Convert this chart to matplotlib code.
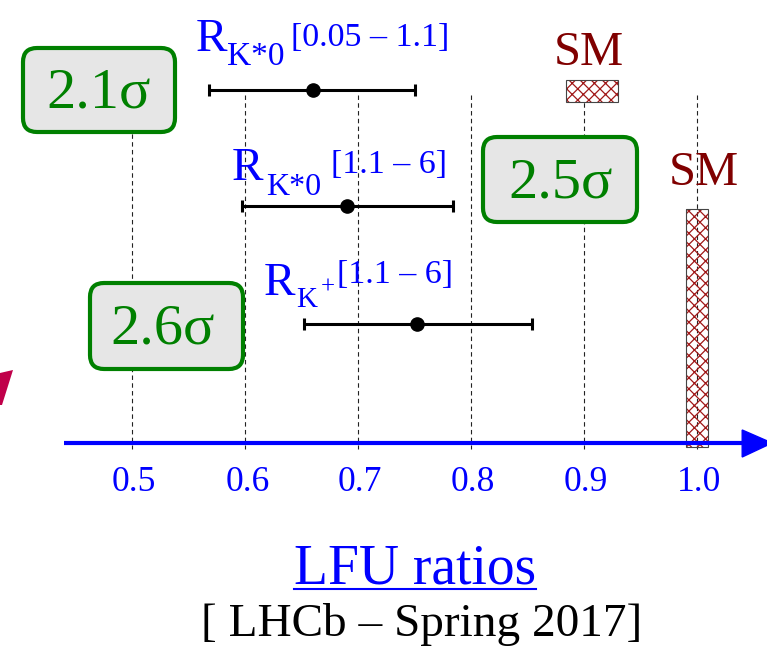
import matplotlib.pyplot as plt
from matplotlib.patches import FancyBboxPatch, Rectangle, Polygon

plt.rcParams['font.family'] = ['Liberation Serif', 'DejaVu Serif']
plt.rcParams['hatch.linewidth'] = 0.9

# LHCb ratios: central value and ends of the error bar
ratio_val = [0.66, 0.69, 0.752]
ratio_lo = [0.568, 0.597, 0.652]
ratio_hi = [0.750, 0.784, 0.854]
ratio_row = [90, 206, 324]          # vertical slot of each measurement

# SM predictions: centre and half width
sm_val = [0.907, 1.0]
sm_half = [0.023, 0.0095]

sigmas = ['2.1σ', '2.5σ', '2.6σ']
tick_vals = [0.5, 0.6, 0.7, 0.8, 0.9, 1.0]
tick_labels = ['0.5', '0.6', '0.7', '0.8', '0.9', '1.0']

W, H = 767, 648
fig = plt.figure(figsize=(W / 100, H / 100), dpi=100)

# main axes: x in ratio units, y in rows
ax = fig.add_axes([0, 0, 1, 1])
ax.set_xlim(0.5 - 132 / 1130, 0.5 + (W - 132) / 1130)
ax.set_ylim(H, 0)
ax.axis('off')

blue = '#0000ff'
green = '#008000'
maroon = '#800000'

# dashed guide lines
ax.vlines(tick_vals, 95, 449, colors='#222222', linestyles=(0, (4, 3)),
          lw=0.8, zorder=1)

# SM bands
sm_top = [80, 209]
sm_bot = [102, 447]
sm_face = ['white', 'none']
for c, hw, t, b, fc in zip(sm_val, sm_half, sm_top, sm_bot, sm_face):
    ax.add_patch(Rectangle((c - hw, t), 2 * hw, b - t, facecolor=fc,
                           edgecolor='#a01818', hatch='xxx', lw=0, zorder=2))
    ax.add_patch(Rectangle((c - hw, t), 2 * hw, b - t, fill=False,
                           edgecolor='#444444', lw=0.8, zorder=2))

# measurements
for v, lo, hi, row in zip(ratio_val, ratio_lo, ratio_hi, ratio_row):
    ax.errorbar(v, row, xerr=[[v - lo], [hi - v]], fmt='o', color='black',
                ms=9.5, lw=2.2, capsize=4.5, capthick=2.2, zorder=3)

# horizontal axis with arrow
ax.plot([0.44, 1.045], [443, 443], color=blue, lw=3, solid_capstyle='butt',
        zorder=4)
ax.add_patch(Polygon([[1.04, 430], [1.0664, 443], [1.04, 457]],
                     closed=True, color=blue, zorder=4))
for v, lab in zip(tick_vals, tick_labels):
    ax.text(v + 0.002, 491, lab, ha='center', va='baseline', color=blue,
            fontsize=25.5)

# overlay in pixel units for the annotations
ov = fig.add_axes([0, 0, 1, 1])
ov.set_xlim(0, W)
ov.set_ylim(H, 0)
ov.axis('off')

boxes = [(23, 48, 152, 84), (483, 137, 154, 85), (90, 283, 153, 86)]
sig_pos = [(99, 108), (561, 197), (163, 343)]
for (bx, by, bw, bh), (tx, ty), s in zip(boxes, sig_pos, sigmas):
    ov.add_patch(FancyBboxPatch((bx, by), bw, bh,
                                boxstyle='round,pad=0,rounding_size=14',
                                facecolor='#e6e6e6', edgecolor=green, lw=3))
    ov.text(tx, ty, s, ha='center', va='baseline', color=green, fontsize=42)

# ratio labels: (text, x, baseline, size)
label_parts = [
    ('R', 196, 51, 34), ('K*0', 227, 65, 24), ('[0.05 – 1.1]', 291, 46, 24.5),
    ('R', 232, 180, 34), ('K*0', 266, 195, 23), ('[1.1 – 6]', 331, 173, 24.5),
    ('R', 264, 295, 34), ('K', 296, 307, 21), ('+', 321, 294, 18),
    ('[1.1 – 6]', 337, 283, 24.5),
]
for txt, x, y, fs in label_parts:
    ov.text(x, y, txt, ha='left', va='baseline', color=blue, fontsize=fs)

ov.text(589, 65, 'SM', ha='center', va='baseline', color=maroon, fontsize=35)
ov.text(704, 185, 'SM', ha='center', va='baseline', color=maroon, fontsize=35)

# edge of an arrow coming in from the left
ov.add_patch(Polygon([[0, 373], [13, 370], [2, 405], [0, 405]], closed=True,
                     color='#c0004a', lw=0))

title = ov.text(415, 583, 'LFU ratios', ha='center', va='baseline',
                color=blue, fontsize=40)
ov.text(422, 636, '[ LHCb – Spring 2017]', ha='center', va='baseline',
        color='black', fontsize=34)

# underline the title
fig.canvas.draw()
bb = title.get_window_extent().transformed(ov.transData.inverted())
ov.plot([bb.x0, bb.x1], [589, 589], color=blue, lw=1.5)

fig.savefig('out.png', dpi=100)
